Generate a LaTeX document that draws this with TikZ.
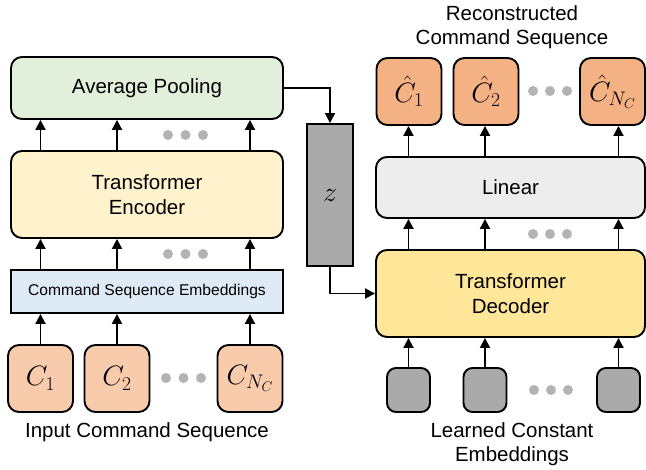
\RequirePackage{fix-cm}
\documentclass[tikz,border=0pt]{standalone}
\usepackage{fontspec}
\setmainfont{Liberation Sans}
\usetikzlibrary{arrows.meta}

\definecolor{poolfill}{HTML}{E2EFDA}
\definecolor{encfill}{HTML}{FFF2CC}
\definecolor{embfill}{HTML}{DEEAF6}
\definecolor{infill}{HTML}{F8CBAD}
\definecolor{outfill}{HTML}{F4B183}
\definecolor{linfill}{HTML}{EDEDED}
\definecolor{decfill}{HTML}{FFE699}
\definecolor{zfill}{HTML}{AAAAAA}
\definecolor{dotgray}{HTML}{B3B3B3}

\tikzset{
  blk/.style={draw=black, line width=1.9pt, rounded corners=11pt, inner sep=0pt,
    align=center, font=\fontsize{20.5}{25}\selectfont},
  flat/.style={draw=black, line width=1.9pt, inner sep=0pt, align=center},
  tok/.style={blk, minimum width=65pt, minimum height=67pt, font=\fontsize{28}{30}\selectfont},
  cst/.style={blk, fill=zfill, rounded corners=9pt, minimum width=43pt, minimum height=44pt},
  arr/.style={line width=1.9pt, -{Triangle[length=10pt,width=10pt]}},
  dotc/.style={fill=dotgray, draw=none},
  lbl/.style={align=center, font=\fontsize{20.5}{24}\selectfont, inner sep=0pt}
}

\begin{document}
\begin{tikzpicture}[x=1pt, y=-1pt]
\useasboundingbox (0,0) rectangle (646,470);

% ---------------- encoder side ----------------
\node[blk, fill=poolfill, minimum width=272pt, minimum height=62pt] (pool) at (147,88) {Average Pooling};
\node[blk, fill=encfill, minimum width=272pt, minimum height=87pt] (enc) at (147,194.5) {Transformer\\Encoder};
\node[flat, fill=embfill, minimum width=272pt, minimum height=43pt,
      font=\fontsize{15.6}{18}\selectfont] (emb) at (147,291.5) {Command Sequence Embeddings};

\node[tok, fill=infill] (c1) at (40.5,378.5) {$C_1$};
\node[tok, fill=infill] (c2) at (117,378.5) {$C_2$};
\node[tok, fill=infill] (cn) at (250,378.5) {$C_{N_C}$};

\node[lbl] (inlbl) at (147,432) {Input Command Sequence};

\foreach \n in {c1,c2,cn} {
  \draw[arr] (\n.north) -- (\n.north |- emb.south);
  \draw[arr] (emb.north -| \n.north) -- (enc.south -| \n.north);
  \draw[arr] (enc.north -| \n.north) -- (pool.south -| \n.north);
}

\foreach \x in {166,183.5,201} {
  \fill[dotc] (\x,378) circle (5pt);
  \fill[dotc] (\x+2,254) circle (5pt);
  \fill[dotc] (\x+2,135) circle (5pt);
}

% ---------------- latent code ----------------
\node[flat, fill=zfill, minimum width=46pt, minimum height=142pt,
      font=\fontsize{28}{30}\selectfont] (z) at (330,195) {$z$};

% ---------------- decoder side ----------------
\node[blk, fill=linfill, minimum width=269pt, minimum height=61pt] (lin) at (510.5,187.5) {Linear};
\node[blk, fill=decfill, minimum width=269pt, minimum height=87pt] (dec) at (510.5,293.5) {Transformer\\Decoder};

\node[tok, fill=outfill] (o1) at (409,91.5) {$\hat{C}_1$};
\node[tok, fill=outfill] (o2) at (486,91.5) {$\hat{C}_2$};
\node[tok, fill=outfill] (on) at (612.5,91.5) {$\hat{C}_{N_C}$};

\node[cst] (g1) at (408.5,390) {};
\node[cst] (g2) at (485,390) {};
\node[cst] (g3) at (618.5,390) {};

\node[lbl] (rclbl) at (512,27) {Reconstructed\\Command Sequence};
\node[lbl] (lclbl) at (512,444.5) {Learned Constant\\Embeddings};

\foreach \g in {g1,g2,g3} {
  \draw[arr] (\g.north) -- (\g.north |- dec.south);
  \draw[arr] (dec.north -| \g.north) -- (lin.south -| \g.north);
}
\draw[arr] (lin.north -| g1.north) -- (o1.south -| g1.north);
\draw[arr] (lin.north -| g2.north) -- (o2.south -| g2.north);
\draw[arr] (lin.north -| g3.north) -- (on.south -| g3.north);

\foreach \x in {533,550,567} {
  \fill[dotc] (\x,91) circle (5pt);
  \fill[dotc] (\x,234) circle (5pt);
  \fill[dotc] (\x+1,390) circle (5pt);
}

% ---------------- connections through z ----------------
\draw[arr] (pool.east) -| (z.north);
\draw[arr] (z.south) |- (dec.west);

\end{tikzpicture}
\end{document}
